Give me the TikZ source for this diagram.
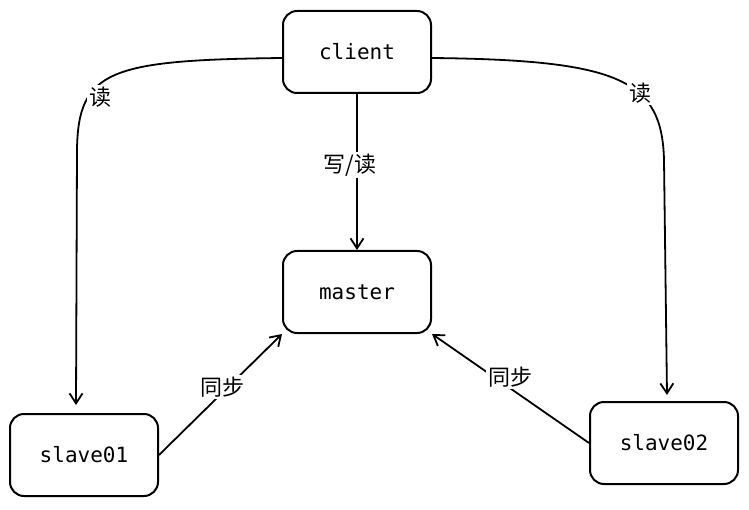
\documentclass[tikz,border=0pt]{standalone}
\usepackage{fontspec}
\setmainfont{DejaVu Sans Mono}
\newfontfamily\cjk{Noto Sans CJK SC}
\usetikzlibrary{arrows.meta}
\begin{document}
\begin{tikzpicture}[x=1pt,y=-1pt,
  box/.style={draw,line width=2pt,rounded corners=14pt,minimum width=148pt,minimum height=82pt,font=\fontsize{21}{24}\selectfont},
  arr/.style={line width=1.8pt,-{Straight Barb[length=10pt,width=13pt,line width=1.8pt]}},
  lab/.style={fill=white,inner sep=2pt,font=\cjk\fontsize{22}{24}\selectfont}]
\useasboundingbox (0,0) rectangle (749,510);
\node[box] (client) at (357,52) {client};
\node[box] (master) at (357,292) {master};
\node[box] (s1) at (84,455) {slave01};
\node[box] (s2) at (664,443) {slave02};
\coordinate (c1) at (283,58);
\coordinate (c2) at (432,58);
\draw[arr] (c1) .. controls (110,60) and (78,70) .. (77,150) -- (76,405);
\draw[arr] (c2) .. controls (620,60) and (662,80) .. (664,160) -- (667,395);
\draw[arr] (client.south) -- (master.north);
\draw[arr] (s1.east) -- (master.south west);
\draw[arr] (s2.west) -- (master.south east);
\node[lab] at (100,97) {读};
\node[lab] at (640,93) {读};
\node[lab] at (350,165) {写/读};
\node[lab] at (222,387) {同步};
\node[lab] at (510,377) {同步};
\end{tikzpicture}
\end{document}
